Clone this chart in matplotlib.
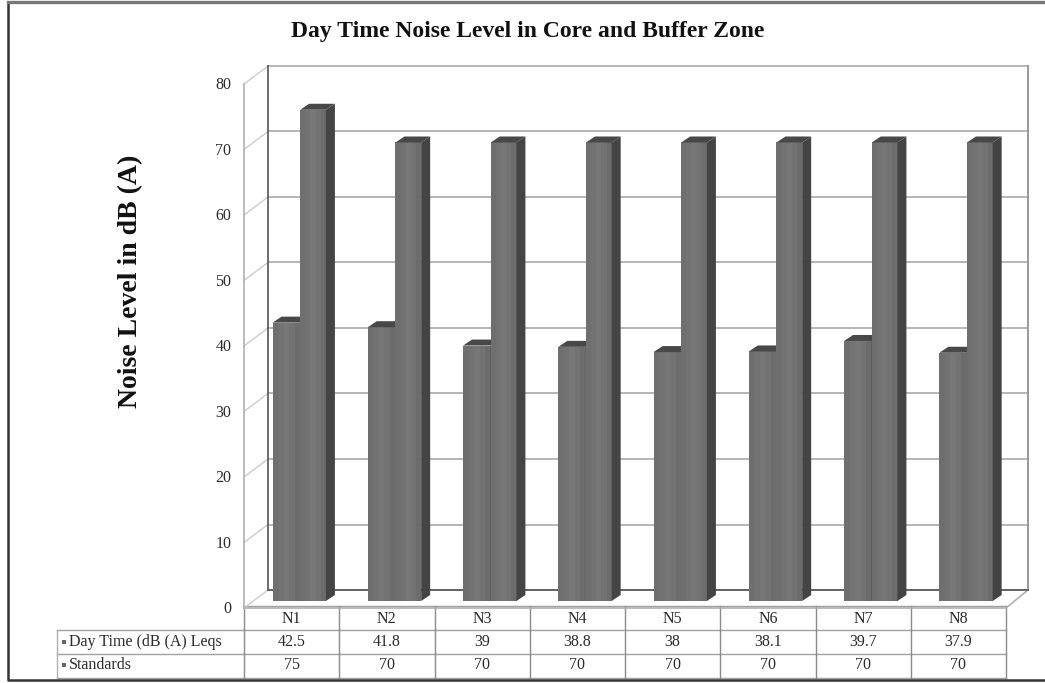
# coding: utf-8
import matplotlib
matplotlib.use('Agg')
import matplotlib.pyplot as plt
from matplotlib.patches import Polygon, Rectangle
from matplotlib.transforms import ScaledTranslation

plt.rcParams['font.family'] = ['Liberation Serif', 'DejaVu Serif']

sites = ['N1', 'N2', 'N3', 'N4', 'N5', 'N6', 'N7', 'N8']
day_time = [42.5, 41.8, 39, 38.8, 38, 38.1, 39.7, 37.9]
standards = [75, 70, 70, 70, 70, 70, 70, 70]
series_names = ['Day Time (dB (A) Leqs', 'Standards']
y_ticks = [0, 10, 20, 30, 40, 50, 60, 70, 80]

W, H = 1045, 683
TEXT = '#2a2a2a'
WALL = '#b0b0b0'

fig = plt.figure(figsize=(W / 100, H / 100), dpi=100, facecolor='white')

# overlay in pixels, for the frame and the data table
fr = fig.add_axes([0, 0, 1, 1], zorder=0)
fr.set_xlim(0, W)
fr.set_ylim(H, 0)
fr.axis('off')

# plot area: front plane of the 3d box
left, right, y0, y80 = 244, 1006, 608, 84
ax = fig.add_axes([left / W, 1 - y0 / H, (right - left) / W, (y0 - y80) / H], zorder=1)
ax.set_xlim(0, 8)
ax.set_ylim(0, 80)
ax.patch.set_alpha(0)
for s in ax.spines.values():
    s.set_visible(False)
ax.set_xticks([])
ax.set_yticks(y_ticks)
ax.tick_params(axis='y', length=0, pad=9, labelsize=11.5, labelcolor=TEXT)
# labels sit a little above the tick position in the original
up = ScaledTranslation(0, 0.7 / 72, fig.dpi_scale_trans)
for lab in ax.get_yticklabels():
    lab.set_transform(lab.get_transform() + up)

px_x = 8 / (right - left)
px_y = 80 / (y0 - y80)
wall_dx, wall_dy = 24 * px_x, 18 * px_y
back_w = 8 - 2 * px_x  # back wall ends at x=1028

# walls and gridlines
for v in y_ticks:
    ax.plot([wall_dx, back_w + wall_dx], [v + wall_dy, v + wall_dy], color=WALL, lw=1.3, clip_on=False, zorder=1)
    ax.plot([0, wall_dx], [v, v + wall_dy], color='#cccccc', lw=1, clip_on=False, zorder=1)
ax.plot([0, 0], [0, 80], color=WALL, lw=1.2, clip_on=False, zorder=1)
ax.plot([wall_dx, wall_dx], [0 + wall_dy, 80 + wall_dy], color='#555555', lw=1.2, clip_on=False, zorder=1)
ax.plot([back_w + wall_dx, back_w + wall_dx], [wall_dy, 80 + wall_dy], color='#9a9a9a', lw=1.4, clip_on=False, zorder=1)
ax.plot([0, 8, back_w + wall_dx], [0, 0, wall_dy], color=WALL, lw=1.2, clip_on=False, zorder=1)
ax.plot([wall_dx, back_w + wall_dx], [wall_dy, wall_dy], color='#555555', lw=1.2, clip_on=False, zorder=1)


def bar3d(x, w, v, z):
    """one bar with shaded front, side and top"""
    base = 7 * px_y
    dx, dy = 9 * px_x, 6 * px_y
    strips = ['#6f6f6f', '#737373', '#777777', '#737373', '#6c6c6c']
    sw = w / len(strips)
    for i, c in enumerate(strips):
        ax.bar(x + i * sw, v, width=sw * 1.02, bottom=base, align='edge', color=c, lw=0, zorder=z, clip_on=False)
    ax.add_patch(Polygon([(x + w, base), (x + w + dx, base + dy), (x + w + dx, base + v + dy), (x + w, base + v)],
                         color='#444444', lw=0, zorder=z, clip_on=False))
    ax.add_patch(Polygon([(x, base + v), (x + dx, base + v + dy), (x + w + dx, base + v + dy), (x + w, base + v)],
                         color='#484848', lw=0, zorder=z, clip_on=False))


for i in range(len(sites)):
    bar3d(i + 0.30, 0.29, day_time[i], 3)
    bar3d(i + 0.59, 0.27, standards[i], 4)

# data table
tab_left, rows = 57, [606, 630, 654, 678]
col_w = (right - left) / len(sites)
for r in rows[1:]:
    fr.plot([tab_left, right], [r, r], color='#a0a0a0', lw=1)
fr.plot([left, right], [rows[0], rows[0]], color='#a0a0a0', lw=1)
fr.plot([tab_left, tab_left], [rows[1], rows[3]], color='#b0b0b0', lw=1)
for i in range(len(sites) + 1):
    fr.plot([left + i * col_w] * 2, [rows[0], rows[3]], color='#8a8a8a', lw=1)
for i in range(len(sites)):
    xc = left + (i + 0.5) * col_w
    fr.text(xc, 619, sites[i], ha='center', va='center', fontsize=11.5, color=TEXT)
    fr.text(xc, 642, str(day_time[i]), ha='center', va='center', fontsize=11.5, color=TEXT)
    fr.text(xc, 665, str(standards[i]), ha='center', va='center', fontsize=11.5, color=TEXT)
for name, yc in zip(series_names, [642, 665]):
    fr.add_patch(Rectangle((62, yc - 2), 4, 4, color='#666666', lw=0))
    fr.text(69, yc, name, ha='left', va='center', fontsize=11.5, color=TEXT)

# outer frame
fr.plot([8, 8, W], [2, 680, 680], color='#333333', lw=1.8)
fr.plot([8, W], [2, 2], color='#777777', lw=2.4)

fr.text(528, 31, 'Day Time Noise Level in Core and Buffer Zone', ha='center', va='center',
        fontsize=17, fontweight='bold', color='#111111')
fr.text(131, 281, 'Noise Level in dB (A)', ha='center', va='center', rotation=90,
        fontsize=20, fontweight='bold', color='#111111')

fig.savefig('out.png', dpi=100)
